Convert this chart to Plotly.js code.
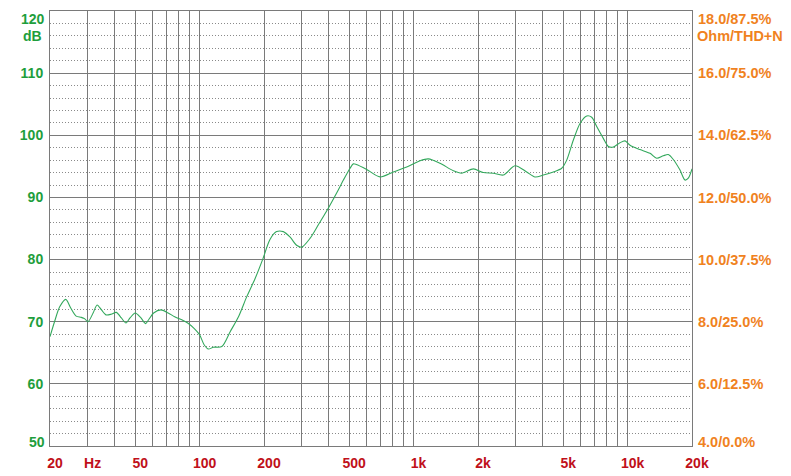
<!DOCTYPE html>
<html>
<head>
<meta charset="utf-8">
<script src="https://cdn.plot.ly/plotly-3.0.1.min.js"></script>
<style>
  html, body { margin: 0; padding: 0; background: #ffffff; }
  #chart { width: 791px; height: 476px; }
</style>
</head>
<body>
<div id="chart"></div>
<script>
// Frequency response (Hz) and SPL (dB)
const freqHz = [20, 21, 22.2, 23.7, 25, 26.5, 28, 29, 30.1, 31.8, 33.2, 34.8, 36.5, 38.6, 40.8, 43.1, 45.3, 47.3, 50, 53, 56, 58, 61, 66, 71.3, 76.5, 82.6, 88, 94.5, 100, 105, 110, 116, 127, 139, 152, 166, 182, 198, 213, 229, 246, 265, 284, 300, 328, 359, 400, 437, 470, 505, 523, 540, 604, 697, 804, 929, 1072, 1172, 1329, 1533, 1678, 1902, 2118, 2358, 2626, 2978, 3378, 3694, 4038, 4498, 4922, 5194, 5576, 5994, 6442, 6798, 7174, 7702, 8128, 8576, 9218, 9728, 10266, 11430, 12732, 13678, 14688, 15500, 16354, 17580, 18550, 19218, 20000];
const splDb = [67.6, 70.0, 72.4, 73.6, 72.2, 70.9, 70.7, 70.5, 70.0, 71.4, 72.7, 71.9, 71.1, 71.2, 71.5, 70.6, 69.8, 70.6, 71.4, 70.7, 69.7, 70.4, 71.4, 71.9, 71.4, 70.8, 70.3, 69.8, 68.9, 67.9, 66.3, 65.6, 65.9, 66.0, 68.4, 70.8, 74.0, 77.0, 80.2, 83.2, 84.5, 84.5, 83.6, 82.3, 82.0, 83.4, 85.6, 88.3, 90.7, 92.8, 94.7, 95.4, 95.3, 94.5, 93.3, 94.1, 94.9, 95.9, 96.2, 95.5, 94.3, 93.9, 94.6, 94.0, 93.9, 93.6, 95.1, 94.1, 93.3, 93.6, 94.1, 94.7, 96.0, 99.2, 101.9, 103.1, 102.9, 101.4, 99.5, 98.2, 98.1, 98.8, 99.1, 98.4, 97.7, 97.1, 96.3, 96.7, 96.9, 96.1, 94.4, 92.8, 93.1, 94.6];

// X axis grid positions and labels
const xTickVals = [20, 30, 40, 50, 60, 70, 80, 90, 100, 200, 300, 400, 500, 600, 700, 800, 900, 1000, 2000, 3000, 4000, 5000, 6000, 7000, 8000, 9000, 10000, 20000];
const xTickText = ['20', 'Hz', '', '50', '', '', '', '', '100', '200', '', '', '500', '', '', '', '', '1k', '2k', '', '', '5k', '', '', '', '', '10k', '20k'];

// Left (dB) and right (Ohm/THD+N) axis labels
const yTickVals = [50, 60, 70, 80, 90, 100, 110, 120];
const yLeftText = ['50', '60', '70', '80', '90', '100', '110', '120'];
const yRightText = ['4.0/0.0%', '6.0/12.5%', '8.0/25.0%', '10.0/37.5%', '12.0/50.0%', '14.0/62.5%', '16.0/75.0%', '18.0/87.5%'];
const leftUnit = 'dB';
const rightUnit = 'Ohm/THD+N';

const green = '#1e9e3c';
const orange = '#f0821e';
const red = '#c0101a';
const gridCol = '#7a7a7a';
const fontFam = 'Liberation Sans, Arial, sans-serif';

// Edge labels (top/bottom) handled as annotations for exact placement
const edgeIdx = [0, yTickVals.length - 1];
const leftText = yLeftText.map((t, i) => edgeIdx.includes(i) ? '' : t);
const rightText = yRightText.map((t, i) => edgeIdx.includes(i) ? '' : t);

const annotations = [];
edgeIdx.forEach(i => {
  const shift = i === 0 ? 4 : -8;
  annotations.push({xref: 'paper', yref: 'y', x: 0, y: yTickVals[i], xanchor: 'right', yanchor: 'middle', xshift: -3, yshift: shift, showarrow: false, text: yLeftText[i], font: {family: fontFam, size: 14, color: green, weight: 'bold'}});
  annotations.push({xref: 'paper', yref: 'y', x: 1, y: yTickVals[i], xanchor: 'left', yanchor: 'middle', xshift: 4, yshift: shift, showarrow: false, text: yRightText[i], font: {family: fontFam, size: 14.5, color: orange, weight: 'bold'}});
});
annotations.push({xref: 'paper', yref: 'y', x: 0, y: yTickVals[yTickVals.length - 1], xanchor: 'right', yanchor: 'middle', xshift: -6, yshift: -25, showarrow: false, text: leftUnit, font: {family: fontFam, size: 14, color: green, weight: 'bold'}});
annotations.push({xref: 'paper', yref: 'y', x: 1, y: yTickVals[yTickVals.length - 1], xanchor: 'left', yanchor: 'middle', xshift: 3, yshift: -25, showarrow: false, text: rightUnit, font: {family: fontFam, size: 14.5, color: orange, weight: 'bold'}});

const traces = [
  {
    x: freqHz, y: splDb, type: 'scatter', mode: 'lines',
    line: {color: '#33a85c', width: 1.1, shape: 'spline', smoothing: 0.8},
    hoverinfo: 'x+y', showlegend: false
  },
  {
    x: [], y: [], type: 'scatter', mode: 'lines', yaxis: 'y2', showlegend: false, hoverinfo: 'skip'
  }
];

const layout = {
  width: 791, height: 476,
  margin: {l: 50, r: 99, t: 11, b: 30, pad: 0},
  paper_bgcolor: '#ffffff', plot_bgcolor: '#ffffff',
  showlegend: false,
  xaxis: {
    type: 'log', range: [Math.log10(20), Math.log10(20000)],
    tickmode: 'array', tickvals: xTickVals, ticktext: xTickText,
    showgrid: true, gridcolor: gridCol, gridwidth: 1,
    ticks: '', ticklabelshift: 5, ticklabelstandoff: 4,
    tickfont: {family: fontFam, size: 14, color: red, weight: 'bold'},
    showline: true, linecolor: gridCol, linewidth: 1, mirror: true,
    zeroline: false, fixedrange: true
  },
  yaxis: {
    range: [50, 120], tickmode: 'array', tickvals: yTickVals, ticktext: leftText,
    showgrid: true, gridcolor: gridCol, gridwidth: 1,
    minor: {dtick: 2, showgrid: true, gridcolor: '#8a8a8a', griddash: '1px,2px', gridwidth: 1, ticks: ''},
    ticks: '', ticklabelstandoff: 3,
    tickfont: {family: fontFam, size: 14, color: green, weight: 'bold'},
    showline: true, linecolor: gridCol, linewidth: 1, mirror: true,
    zeroline: false, fixedrange: true
  },
  yaxis2: {
    overlaying: 'y', side: 'right', range: [50, 120],
    tickmode: 'array', tickvals: yTickVals, ticktext: rightText,
    showgrid: false, ticks: '', ticklabelstandoff: 5,
    tickfont: {family: fontFam, size: 14.5, color: orange, weight: 'bold'},
    showline: false, zeroline: false, fixedrange: true
  },
  annotations: annotations
};

Plotly.newPlot('chart', traces, layout, {staticPlot: true, displayModeBar: false});
</script>
</body>
</html>
